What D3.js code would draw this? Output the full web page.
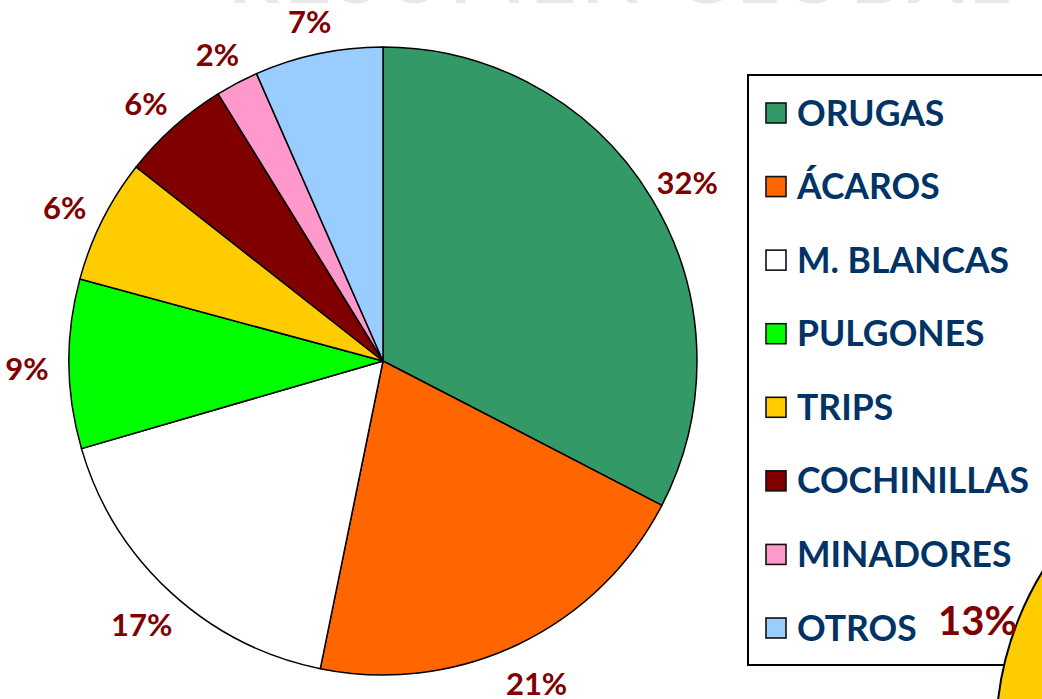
<!DOCTYPE html>
<html>
<head>
<meta charset="utf-8">
<script src="https://cdn.jsdelivr.net/npm/d3@7"></script>
<style>
  body { margin: 0; background: #fff; }
  svg { display: block; }
</style>
</head>
<body>
<div id="chart"></div>
<script>
var width = 1042, height = 699

// data
var categories = ["ORUGAS", "ÁCAROS", "M. BLANCAS", "PULGONES", "TRIPS", "COCHINILLAS", "MINADORES", "OTROS"]
var values = [32.6, 20.6, 17.3, 8.7, 6.4, 5.6, 2.2, 6.6]
var pctLabels = ["32%", "21%", "17%", "9%", "6%", "6%", "2%", "7%"]
var colors = ["#339966", "#FF6600", "#FFFFFF", "#00FF00", "#FFCC00", "#800000", "#FF99CC", "#99CCFF"]
var otherPieLabel = "13%"

var cx = 383, cy = 361, radius = 314
// labels sit on a slightly flattened ring round the pie
var labelRx = 356, labelRy = 352, labelShift = 5

var svg = d3.select("#chart")
  .append("svg")
    .attr("width", width)
    .attr("height", height)

// cut-off title at the top
svg.append("text")
  .attr("x", 228)
  .attr("y", 3)
  .attr("textLength", 782)
  .attr("lengthAdjust", "spacing")
  .style("font-family", "Lato, sans-serif")
  .style("font-weight", "bold")
  .style("font-size", "80px")
  .style("fill", "#e8e8e8")
  .text("RESUMEN GLOBAL")

var data = categories.map(function(c, i) {
  return { name: c, value: values[i], label: pctLabels[i], color: colors[i] }
})

var pie = d3.pie()
  .sort(null)
  .value(d => d.value)

var arc = d3.arc()
  .innerRadius(0)
  .outerRadius(radius)

var g = svg.append("g")
  .attr("transform", `translate(${cx},${cy})`)

g.selectAll("path")
  .data(pie(data))
  .enter()
  .append("path")
    .attr("d", arc)
    .attr("fill", d => d.data.color)
    .attr("stroke", "#000")
    .attr("stroke-width", 1.5)
    .attr("stroke-linejoin", "round")

g.selectAll("text.pct")
  .data(pie(data))
  .enter()
  .append("text")
    .attr("class", "pct")
    .attr("transform", d => {
      var mid = (d.startAngle + d.endAngle) / 2
      var x = labelRx * Math.sin(mid)
      var y = -labelRy * Math.cos(mid) + labelShift
      return `translate(${x},${y})`
    })
    .attr("dy", "0.36em")
    .attr("text-anchor", "middle")
    .style("font-family", "Lato, sans-serif")
    .style("font-weight", "bold")
    .style("font-size", "31px")
    .style("fill", "#800000")
    .text(d => d.data.label)

// legend
var legend = svg.append("g")

legend.append("rect")
  .attr("x", 748)
  .attr("y", 75)
  .attr("width", 400)
  .attr("height", 590)
  .attr("fill", "#fff")
  .attr("stroke", "#000")
  .attr("stroke-width", 2)

var rowY = d3.scaleLinear()
  .domain([0, categories.length - 1])
  .range([113, 628])

var items = legend.selectAll("g.item")
  .data(data)
  .enter()
  .append("g")
    .attr("class", "item")
    .attr("transform", (d, i) => `translate(0,${rowY(i)})`)

items.append("rect")
  .attr("x", 766)
  .attr("y", -10)
  .attr("width", 20)
  .attr("height", 20)
  .attr("fill", d => d.color)
  .attr("stroke", "#111")
  .attr("stroke-width", 1.6)

items.append("text")
  .attr("x", 797)
  .attr("y", 12.5)
  .style("font-family", "Lato, sans-serif")
  .style("font-weight", "bold")
  .style("font-size", "35.5px")
  .style("fill", "#003366")
  .text(d => d.name)

// neighbouring pie peeking in at the bottom right
svg.append("circle")
  .attr("cx", 1310)
  .attr("cy", 736)
  .attr("r", 314)
  .attr("fill", "#FFCC00")
  .attr("stroke", "#000")
  .attr("stroke-width", 2)

svg.append("text")
  .attr("x", 938)
  .attr("y", 635)
  .style("font-family", "Lato, sans-serif")
  .style("font-weight", "bold")
  .style("font-size", "40px")
  .style("fill", "#800000")
  .text(otherPieLabel)
</script>
</body>
</html>
